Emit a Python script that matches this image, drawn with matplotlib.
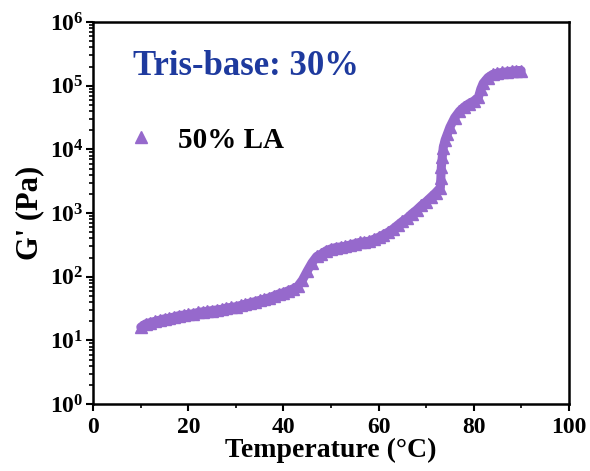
import numpy as np
import matplotlib
matplotlib.use("Agg")
import matplotlib.pyplot as plt
from matplotlib.ticker import LogLocator, LogFormatterMathtext, MultipleLocator, NullFormatter

plt.rcParams['font.family'] = ['Liberation Serif', 'DejaVu Serif']
plt.rcParams['font.weight'] = 'bold'
plt.rcParams['mathtext.fontset'] = 'custom'
plt.rcParams['mathtext.rm'] = 'Liberation Serif:bold'
plt.rcParams['mathtext.bf'] = 'Liberation Serif:bold'
plt.rcParams['mathtext.default'] = 'bf'

# temperature (°C) and storage modulus G' (Pa)
temperature = [10, 11, 12, 13, 14, 15, 16, 17, 18, 19,
               20, 21, 22, 23, 24, 25, 26, 27, 28, 29,
               30, 31, 32, 33, 34, 35, 36, 37, 38, 39,
               40, 41, 42, 43, 44, 45, 46, 47, 48, 49,
               50, 51, 52, 53, 54, 55, 56, 57, 58, 59,
               60, 61, 62, 63, 64, 65, 66, 67, 68, 69,
               70, 71, 72, 73, 73.1, 73.2, 73.4, 73.6, 74, 74.5,
               75, 76, 77, 78, 79, 80, 81, 81.5, 82, 83,
               84, 85, 86, 87, 88, 89, 90]
g_prime = [16.2, 18.2, 19.1, 20.0, 20.9, 21.9, 22.4, 23.4, 24.5, 25.1,
           25.7, 26.3, 27.5, 28.2, 28.8, 29.5, 30.2, 30.9, 32.4, 33.1,
           33.9, 35.5, 37.2, 38.9, 40.7, 42.7, 44.7, 46.8, 50.1, 53.7,
           56.2, 60.3, 64.6, 70.8, 89.1, 123, 166, 209, 229, 257,
           275, 288, 295, 302, 316, 331, 347, 355, 363, 389,
           417, 457, 501, 562, 646, 741, 832, 977, 1122, 1318,
           1514, 1778, 2089, 2512, 3548, 5248, 7586, 10715, 14125, 17783,
           22387, 31623, 39811, 46774, 52481, 57544, 66069, 89125, 109648, 134896,
           151356, 158489, 162181, 165959, 169824, 173780, 173780]

purple = '#9669CC'

fig = plt.figure(figsize=(5.9, 4.71), dpi=100)
ax = fig.add_axes([0.158, 0.142, 0.806, 0.811])

# dense measured points overlap into a thick band
ax.plot(temperature, g_prime, linestyle='-', linewidth=6.5, color=purple,
        solid_capstyle='round', solid_joinstyle='round')
ax.plot(temperature, g_prime, linestyle='none', marker='^', markersize=8,
        color=purple, markeredgecolor=purple, label='50% LA')

ax.set_yscale('log')
ax.set_xlim(0, 100)
ax.set_ylim(1, 1e6)

ax.xaxis.set_major_locator(MultipleLocator(20))
ax.xaxis.set_minor_locator(MultipleLocator(10))
ax.yaxis.set_major_locator(LogLocator(base=10, numticks=10))
ax.yaxis.set_minor_locator(LogLocator(base=10, subs=np.arange(2, 10), numticks=20))
ax.yaxis.set_major_formatter(LogFormatterMathtext())
ax.yaxis.set_minor_formatter(NullFormatter())

ax.tick_params(which='major', direction='out', length=5, width=1.5, labelsize=17, pad=2)
ax.tick_params(axis='x', which='major', pad=4)
ax.tick_params(which='minor', direction='out', length=3, width=1.2)
for s in ax.spines.values():
    s.set_linewidth(1.8)

ax.set_xlabel('Temperature (\u00b0C)', fontsize=20, fontweight='bold', labelpad=0)
ax.set_ylabel("G' (Pa)", fontsize=22, fontweight='bold', labelpad=4)

ax.text(0.083, 0.885, 'Tris-base: 30%', transform=ax.transAxes, fontsize=25,
        fontweight='bold', color='#1E3A9E', va='center')

ax.legend(loc='upper left', bbox_to_anchor=(0.015, 0.795), frameon=False,
          fontsize=21, handlelength=1.0, handletextpad=0.75, markerscale=1.0)

fig.savefig('out.png', dpi=100)
